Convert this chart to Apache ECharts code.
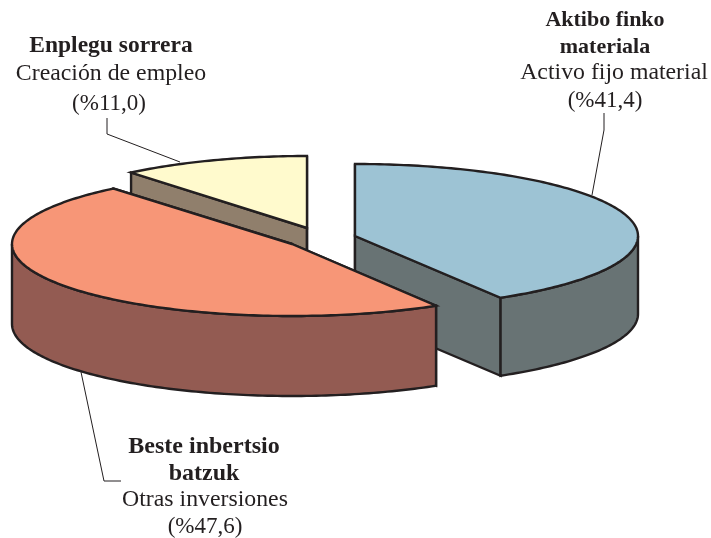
<!DOCTYPE html>
<html><head><meta charset="utf-8">
<style>html,body{margin:0;padding:0;background:#fff}#c{width:711px;height:538px}</style>
<script src="https://cdn.jsdelivr.net/npm/echarts@6/dist/echarts.min.js"></script>
</head><body><div id="c"></div>
<script>
// Data, clockwise from 12 o'clock
const names = ['Aktibo finko materiala', 'Beste inbertsio batzuk', 'Enplegu sorrera'];
const spanish = ['Activo fijo material', 'Otras inversiones', 'Creación de empleo'];
const shares = [41.4, 47.6, 11.0];
const shareLabels = ['(%41,4)', '(%47,6)', '(%11,0)'];
const boldLines = [['Aktibo finko', 'materiala'], ['Beste inbertsio', 'batzuk'], ['Enplegu sorrera']];

// Layout (one exploded ellipse per slice) and style
const layout = [
  {cx: 355, cy: 236, rx: 283, ry: 72, depth: 78},
  {cx: 292, cy: 244, rx: 280, ry: 72, depth: 80},
  {cx: 307, cy: 228, rx: 276, ry: 72, depth: 78}
];
const topColors = ['#9DC3D4', '#F79677', '#FFFACD'];
const wallColors = ['#687374', '#935B52', '#907F6C'];
const paintOrder = [2, 0, 1];
const ink = '#231F20';
const labelPos = [
  {xs: [605, 605, 614, 605], ys: [20, 47, 73, 101], bold: 22},
  {xs: [204, 204, 205, 205], ys: [447, 474, 500, 527], bold: 24},
  {xs: [111, 111, 109], ys: [46, 74, 104], bold: 23.5}
];
const leaders = [
  [[604, 113], [604, 130], [592, 195]],
  [[81, 372], [104, 481], [121, 481]],
  [[107, 118], [107, 134], [180, 162]]
];

const total = shares.reduce((a, b) => a + b, 0);
let acc = 0;
const spans = shares.map(v => { const s = [acc / total * 360, (acc + v) / total * 360]; acc += v; return s; });

function pt(g, deg, dy) {
  const r = deg * Math.PI / 180;
  return [g.cx + g.rx * Math.sin(r), g.cy - g.ry * Math.cos(r) + (dy || 0)];
}
function arc(g, a, b, dy) {
  const out = [], n = Math.max(2, Math.ceil(Math.abs(b - a)));
  for (let i = 0; i <= n; i++) out.push(pt(g, a + (b - a) * i / n, dy));
  return out;
}
function renderItem(params, api) {
  const i = api.value(0), g = layout[i], a = spans[i][0], b = spans[i][1];
  const c = [g.cx, g.cy], cd = [g.cx, g.cy + g.depth];
  const line = {stroke: ink, lineWidth: 2.4, lineJoin: 'miter'};
  const poly = (points, fill) => ({type: 'polygon', shape: {points}, style: Object.assign({fill}, line)});
  const kids = [];
  [a, b].forEach(t => kids.push(poly([c, pt(g, t), pt(g, t, g.depth), cd], wallColors[i])));
  const w0 = Math.max(a, 90), w1 = Math.min(b, 270);
  if (w1 > w0) kids.push(poly(arc(g, w0, w1).concat(arc(g, w1, w0, g.depth)), wallColors[i]));
  kids.push(poly([c].concat(arc(g, a, b)), topColors[i]));
  return {type: 'group', children: kids};
}

const font = 'Liberation Serif';
const texts = [], lines = [];
shares.forEach((v, i) => {
  const nb = boldLines[i].length;
  const content = boldLines[i].concat([spanish[i], shareLabels[i]]);
  content.forEach((t, k) => {
    const f = k < nb ? 'bold ' + labelPos[i].bold + 'px' : (k === nb ? '23.8px' : '23px');
    texts.push({
      type: 'text', x: labelPos[i].xs[k], y: labelPos[i].ys[k],
      style: {text: t, fill: ink, textAlign: 'center', textVerticalAlign: 'middle',
        font: f + ' "' + font + '"'}
    });
  });
  lines.push({type: 'polyline', shape: {points: leaders[i]}, style: {stroke: ink, lineWidth: 1, fill: null}});
});

const chart = echarts.init(document.getElementById('c'), null, {renderer: 'canvas'});
chart.setOption({
  animation: false,
  backgroundColor: '#fff',
  graphic: {elements: lines.concat(texts)},
  series: [{
    type: 'custom', coordinateSystem: 'none', silent: true,
    renderItem: renderItem,
    data: paintOrder.map(i => ({name: names[i], value: [i, shares[i]]}))
  }]
});
</script></body></html>
